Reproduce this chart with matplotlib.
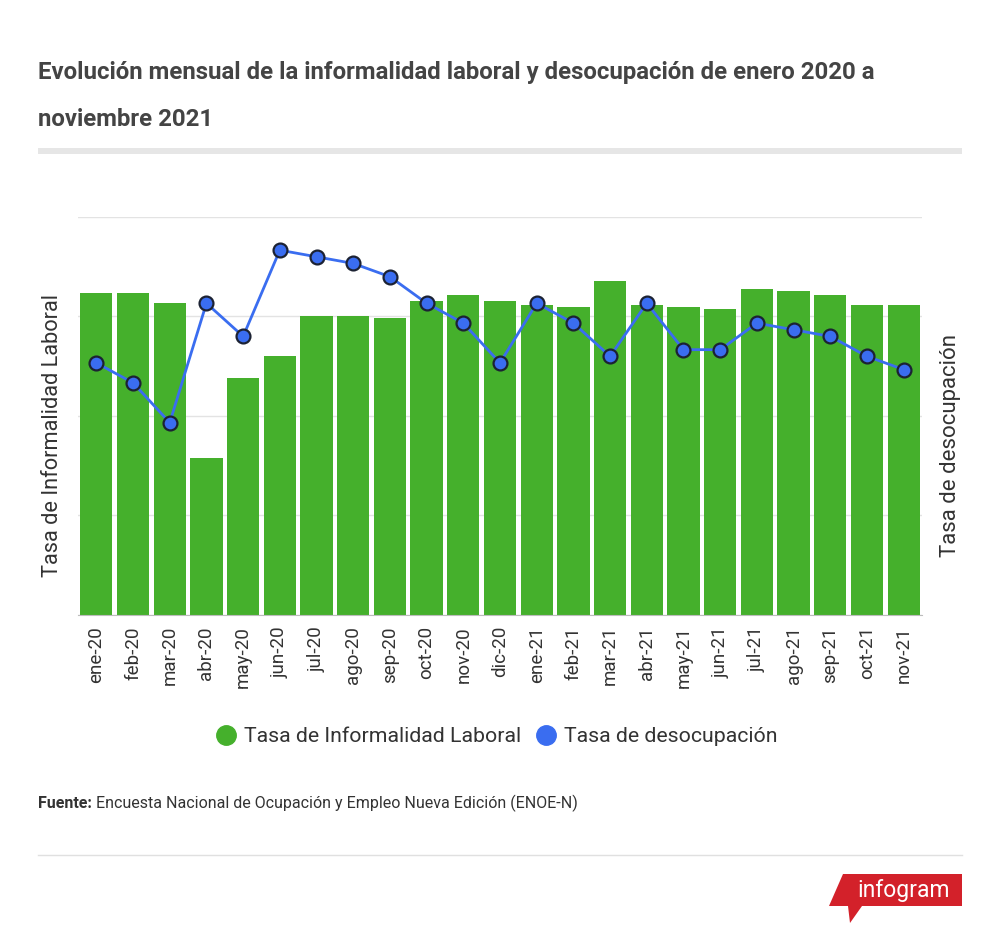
import numpy as np
import matplotlib
matplotlib.use("Agg")
import matplotlib.pyplot as plt
from matplotlib.patches import Polygon, Rectangle
from matplotlib.lines import Line2D

plt.rcParams['font.family'] = ['Roboto', 'DejaVu Sans']

meses = ['ene-20', 'feb-20', 'mar-20', 'abr-20', 'may-20', 'jun-20', 'jul-20',
         'ago-20', 'sep-20', 'oct-20', 'nov-20', 'dic-20', 'ene-21', 'feb-21',
         'mar-21', 'abr-21', 'may-21', 'jun-21', 'jul-21', 'ago-21', 'sep-21',
         'oct-21', 'nov-21']

# tasa de informalidad laboral (%)
informalidad = [56.2, 56.2, 55.7, 47.9, 51.9, 53.0, 55.0, 55.0, 54.9, 55.8,
                56.1, 55.8, 55.6, 55.5, 56.8, 55.6, 55.5, 55.4, 56.4, 56.3,
                56.1, 55.6, 55.6]

# tasa de desocupacion (%)
desocupacion = [3.8, 3.5, 2.9, 4.7, 4.2, 5.5, 5.4, 5.3, 5.1, 4.7, 4.4, 3.8,
                4.7, 4.4, 3.9, 4.7, 4.0, 4.0, 4.4, 4.3, 4.2, 3.9, 3.7]

verde = '#45b02c'
azul = '#3a6df0'
gris_txt = '#333333'

W, H = 1000, 943
fig = plt.figure(figsize=(W / 100, H / 100), dpi=100)


def fx(px):
    return px / W


def fy(py):
    return 1 - py / H


# titulo
fig.text(fx(38), fy(72), 'Evolución mensual de la informalidad laboral y desocupación de enero 2020 a',
         fontsize=17.3, fontweight='bold', color='#444444', va='center', ha='left')
fig.text(fx(38), fy(119), 'noviembre 2021',
         fontsize=17.3, fontweight='bold', color='#444444', va='center', ha='left')
fig.patches.append(Rectangle((fx(38), fy(154)), fx(924), 6 / H, transform=fig.transFigure,
                             facecolor='#e6e6e6', edgecolor='none'))

# grafica
ax = fig.add_axes([fx(78), fy(615), fx(844), 398 / H])
x = np.arange(len(meses))
ax.bar(x, informalidad, width=0.88, color=verde, zorder=2)
ax.set_ylim(40, 60)
ax.set_xlim(-0.5, len(meses) - 0.5)
ax.set_yticks([40, 45, 50, 55, 60])
ax.set_yticklabels([])
ax.tick_params(axis='y', length=0)
ax.grid(axis='y', color='#e3e3e3', linewidth=1, zorder=0)
ax.set_xticks(x)
ax.set_xticklabels(meses, rotation=90, fontsize=13.5, color=gris_txt)
ax.tick_params(axis='x', length=0, pad=8)
for s in ['left', 'right', 'top']:
    ax.spines[s].set_visible(False)
ax.spines['bottom'].set_color('#bdbdbd')
ax.set_ylabel('Tasa de Informalidad Laboral', fontsize=15.7, color=gris_txt)
ax.yaxis.set_label_coords(-0.0178, 0.452)

ax2 = ax.twinx()
ax2.plot(x, desocupacion, color=azul, linewidth=2, marker='o', markersize=10,
         markerfacecolor=azul, markeredgecolor='#1c2233', markeredgewidth=1.6, zorder=3)
ax2.set_ylim(0, 6)
ax2.set_yticks([])
for s in ['left', 'right', 'top', 'bottom']:
    ax2.spines[s].set_visible(False)
ax2.set_ylabel('Tasa de desocupación', fontsize=16, color=gris_txt)
ax2.yaxis.set_label_coords(1.0213, 0.425)

# leyenda
handles = [Line2D([], [], linestyle='none', marker='o', markersize=14, color=verde),
           Line2D([], [], linestyle='none', marker='o', markersize=14, color=azul)]
fig.legend(handles, ['Tasa de Informalidad Laboral', 'Tasa de desocupación'],
           loc='center', bbox_to_anchor=(fx(496), fy(737)), ncol=2, frameon=False,
           fontsize=15.3, labelcolor=gris_txt, handletextpad=0.3, columnspacing=0.6,
           handlelength=1.1)

# fuente
t = fig.text(fx(38), fy(803), 'Fuente:', fontsize=11.5, fontweight='bold', color='#333333', va='center')
fig.canvas.draw()
bb = t.get_window_extent()
fig.text(bb.x1 / W + fx(4), fy(803), 'Encuesta Nacional de Ocupación y Empleo Nueva Edición (ENOE-N)',
         fontsize=11.5, color='#333333', va='center')
fig.lines.append(Line2D([fx(38), fx(962)], [fy(855), fy(855)], transform=fig.transFigure,
                        color='#e0e0e0', linewidth=1))

# logo infogram
pts = [(843, 874), (962, 874), (962, 906), (862, 906), (850, 923), (848, 906), (829, 906)]
fig.patches.append(Polygon([(fx(a), fy(b)) for a, b in pts], closed=True,
                           transform=fig.transFigure, facecolor='#d3212a', edgecolor='none'))
fig.text(fx(904), fy(890), 'infogram', fontsize=16.5, color='white', ha='center', va='center')

fig.savefig('out.png', dpi=100)
